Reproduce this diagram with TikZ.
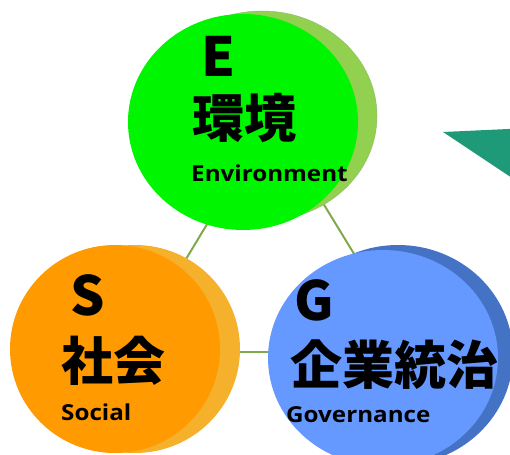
\documentclass[tikz,border=0pt]{standalone}
\usepackage{fontspec}
\newfontfamily\cjk{Noto Sans CJK JP}
\newfontfamily\latinsans[FakeStretch=1.1]{Open Sans}
\usetikzlibrary{shapes.geometric}
\definecolor{greenfront}{HTML}{00F500}
\definecolor{greenback}{HTML}{92D050}
\definecolor{orangefront}{HTML}{FF9A00}
\definecolor{orangeback}{HTML}{F5B02C}
\definecolor{bluefront}{HTML}{6699FF}
\definecolor{blueback}{HTML}{4472C4}
\definecolor{linkcol}{HTML}{7FAA4C}
\definecolor{tealtri}{HTML}{1F9A78}
\tikzset{
  blob/.style={ellipse, inner sep=0pt, draw=none},
  link/.style={draw=linkcol, line width=2pt},
  big/.style={inner sep=0pt, anchor=base west, font=\cjk\bfseries\fontsize{54}{54}\selectfont},
  kanji/.style={inner sep=0pt, anchor=base west, font=\cjk\bfseries\fontsize{52}{52}\selectfont},
  small/.style={inner sep=0pt, anchor=base west, font=\latinsans\bfseries\fontsize{22}{22}\selectfont}
}
\begin{document}
\begin{tikzpicture}[x=1pt, y=-1pt]
\useasboundingbox (0,0) rectangle (510,454);
\clip (0,0) rectangle (510,454);
% teal triangle
\fill[tealtri] (443,132) -- (530,128) -- (530,190) -- cycle;
% connector triangle
\coordinate (tE) at (271,118);
\coordinate (tS) at (130,352);
\coordinate (tG) at (414,352);
\draw[link] (tE) -- (tS);
\draw[link] (tS) -- (tG);
\draw[link] (tG) -- (tE);
% green
\node[blob, fill=greenback, draw=linkcol!80, line width=0.5pt, minimum width=230pt, minimum height=210pt] (Eback) at (262,116) {};
\node[blob, fill=greenfront, minimum width=230pt, minimum height=216pt] (Efront) at (243,122) {};
% orange
\node[blob, fill=orangeback, minimum width=210pt, minimum height=208pt] (Sback) at (135,349) {};
\node[blob, fill=orangefront, minimum width=210pt, minimum height=208pt] (Sfront) at (115,349) {};
% blue
\node[blob, fill=blueback, minimum width=230pt, minimum height=220pt] (Gback) at (398,355) {};
\node[blob, fill=bluefront, minimum width=230pt, minimum height=216pt] (Gfront) at (383,358) {};
% texts
\node[big] (E) at (201,77) {E};
\node[kanji] (Ek) at (192,138) {環境};
\node[small] (Ee) at (191,182) {Environment};
\node[big] (S) at (70,315) {S};
\node[kanji] (Sk) at (61,380) {社会};
\node[small] (Se) at (61,420) {Social};
\node[big] (G) at (294,320) {G};
\node[kanji] (Gk) at (290,384) {企業統治};
\node[small] (Ge) at (286,422) {Governance};
\end{tikzpicture}
\end{document}
